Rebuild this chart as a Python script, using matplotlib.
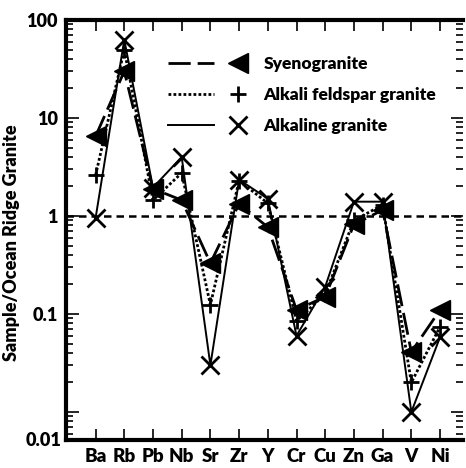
import matplotlib
matplotlib.use("Agg")
import matplotlib.pyplot as plt
from matplotlib.legend_handler import HandlerTuple
from matplotlib.lines import Line2D
from matplotlib.ticker import LogLocator, NullFormatter, FixedLocator

plt.rcParams['font.family'] = ['Lato', 'DejaVu Sans']
plt.rcParams['font.weight'] = 'heavy'

elements = ["Ba", "Rb", "Pb", "Nb", "Sr", "Zr", "Y", "Cr", "Cu", "Zn", "Ga", "V", "Ni"]

syenogranite = [6.5, 30, 1.9, 1.45, 0.33, 1.33, 0.77, 0.11, 0.15, 0.82, 1.15, 0.041, 0.11]
alkali_feldspar = [2.6, 50, 1.45, 2.75, 0.124, 2.3, 1.35, 0.085, 0.16, 0.9, 1.3, 0.02, 0.074]
alkaline = [0.95, 63, 1.95, 4.0, 0.03, 2.35, 1.5, 0.06, 0.19, 1.4, 1.4, 0.01, 0.058]

y_ticks = [0.1, 1, 10, 100]
y_tick_labels = ["0.1", "1", "10", "100"]

W = 'heavy'

fig = plt.figure(figsize=(4.66, 4.68), dpi=100)
ax = fig.add_axes([66 / 466, 1 - 440 / 468, 397 / 466, 420 / 468])

x = list(range(len(elements)))

l1, = ax.plot(x, syenogranite, color='black', lw=2.0, linestyle=(0, (8, 2.5)))
m1, = ax.plot(x, syenogranite, linestyle='none', marker='<', ms=15, color='black')
l2, = ax.plot(x, alkali_feldspar, color='black', lw=2.0, linestyle=(0, (1, 0.8)))
m2, = ax.plot(x, alkali_feldspar, linestyle='none', marker='+', ms=12, mew=2.0, color='black')
l3, = ax.plot(x, alkaline, color='black', lw=1.4, linestyle='-')
m3, = ax.plot(x, alkaline, linestyle='none', marker='x', ms=13, mew=2.0, color='black')

ax.axhline(1, color='black', lw=1.8, linestyle=(0, (3, 2)), zorder=0.5)

ax.set_yscale('log')
ax.set_ylim(10 ** (2 - 420 / 98), 100)
ax.set_xlim(-1.03, 12.8)

ax.set_xticks(x)
ax.set_xticklabels(elements, fontsize=13.5, fontweight=W)
ax.yaxis.set_major_locator(FixedLocator([0.01] + y_ticks))
ax.set_yticklabels([""] + y_tick_labels, fontsize=13, fontweight=W)
ax.yaxis.set_minor_locator(LogLocator(base=10, subs=range(2, 10), numticks=20))
ax.yaxis.set_minor_formatter(NullFormatter())
ax.text(-0.012, 0.0, "0.01", transform=ax.transAxes, ha='right', va='center',
        fontsize=13, fontweight=W)

ax.tick_params(axis='x', which='both', direction='in', top=True, bottom=True,
               length=8, width=1.2, pad=6)
ax.tick_params(axis='y', which='major', direction='in', left=True, right=True,
               length=9, width=1.2, pad=6)
ax.tick_params(axis='y', which='minor', direction='in', left=True, right=True,
               length=5, width=1.2)

for side in ('left', 'bottom', 'top'):
    ax.spines[side].set_linewidth(3)
ax.spines['right'].set_visible(False)

ax.set_ylabel("Sample/Ocean Ridge Granite", fontsize=13, fontweight=W)
ax.yaxis.set_label_coords(-0.115, 0.47)

handles = [(l1, Line2D([], [], linestyle='none', marker='<', ms=15, color='black')),
           (l2, Line2D([], [], linestyle='none', marker='+', ms=12, mew=2.0, color='black')),
           (l3, Line2D([], [], linestyle='none', marker='x', ms=13, mew=2.0, color='black'))]
labels = ["Syenogranite", "Alkali feldspar granite", "Alkaline granite"]
leg = ax.legend(handles, labels, handler_map={tuple: HandlerTuple(ndivide=None, pad=0)},
                loc='upper left', bbox_to_anchor=((168 - 66) / 397, 1 - 36 / 420),
                frameon=False, borderpad=0, borderaxespad=0, handlelength=5.3,
                handletextpad=0.15, labelspacing=0.85,
                prop={'family': 'Lato', 'weight': W, 'size': 12.6})

fig.savefig("out.png", dpi=100)
